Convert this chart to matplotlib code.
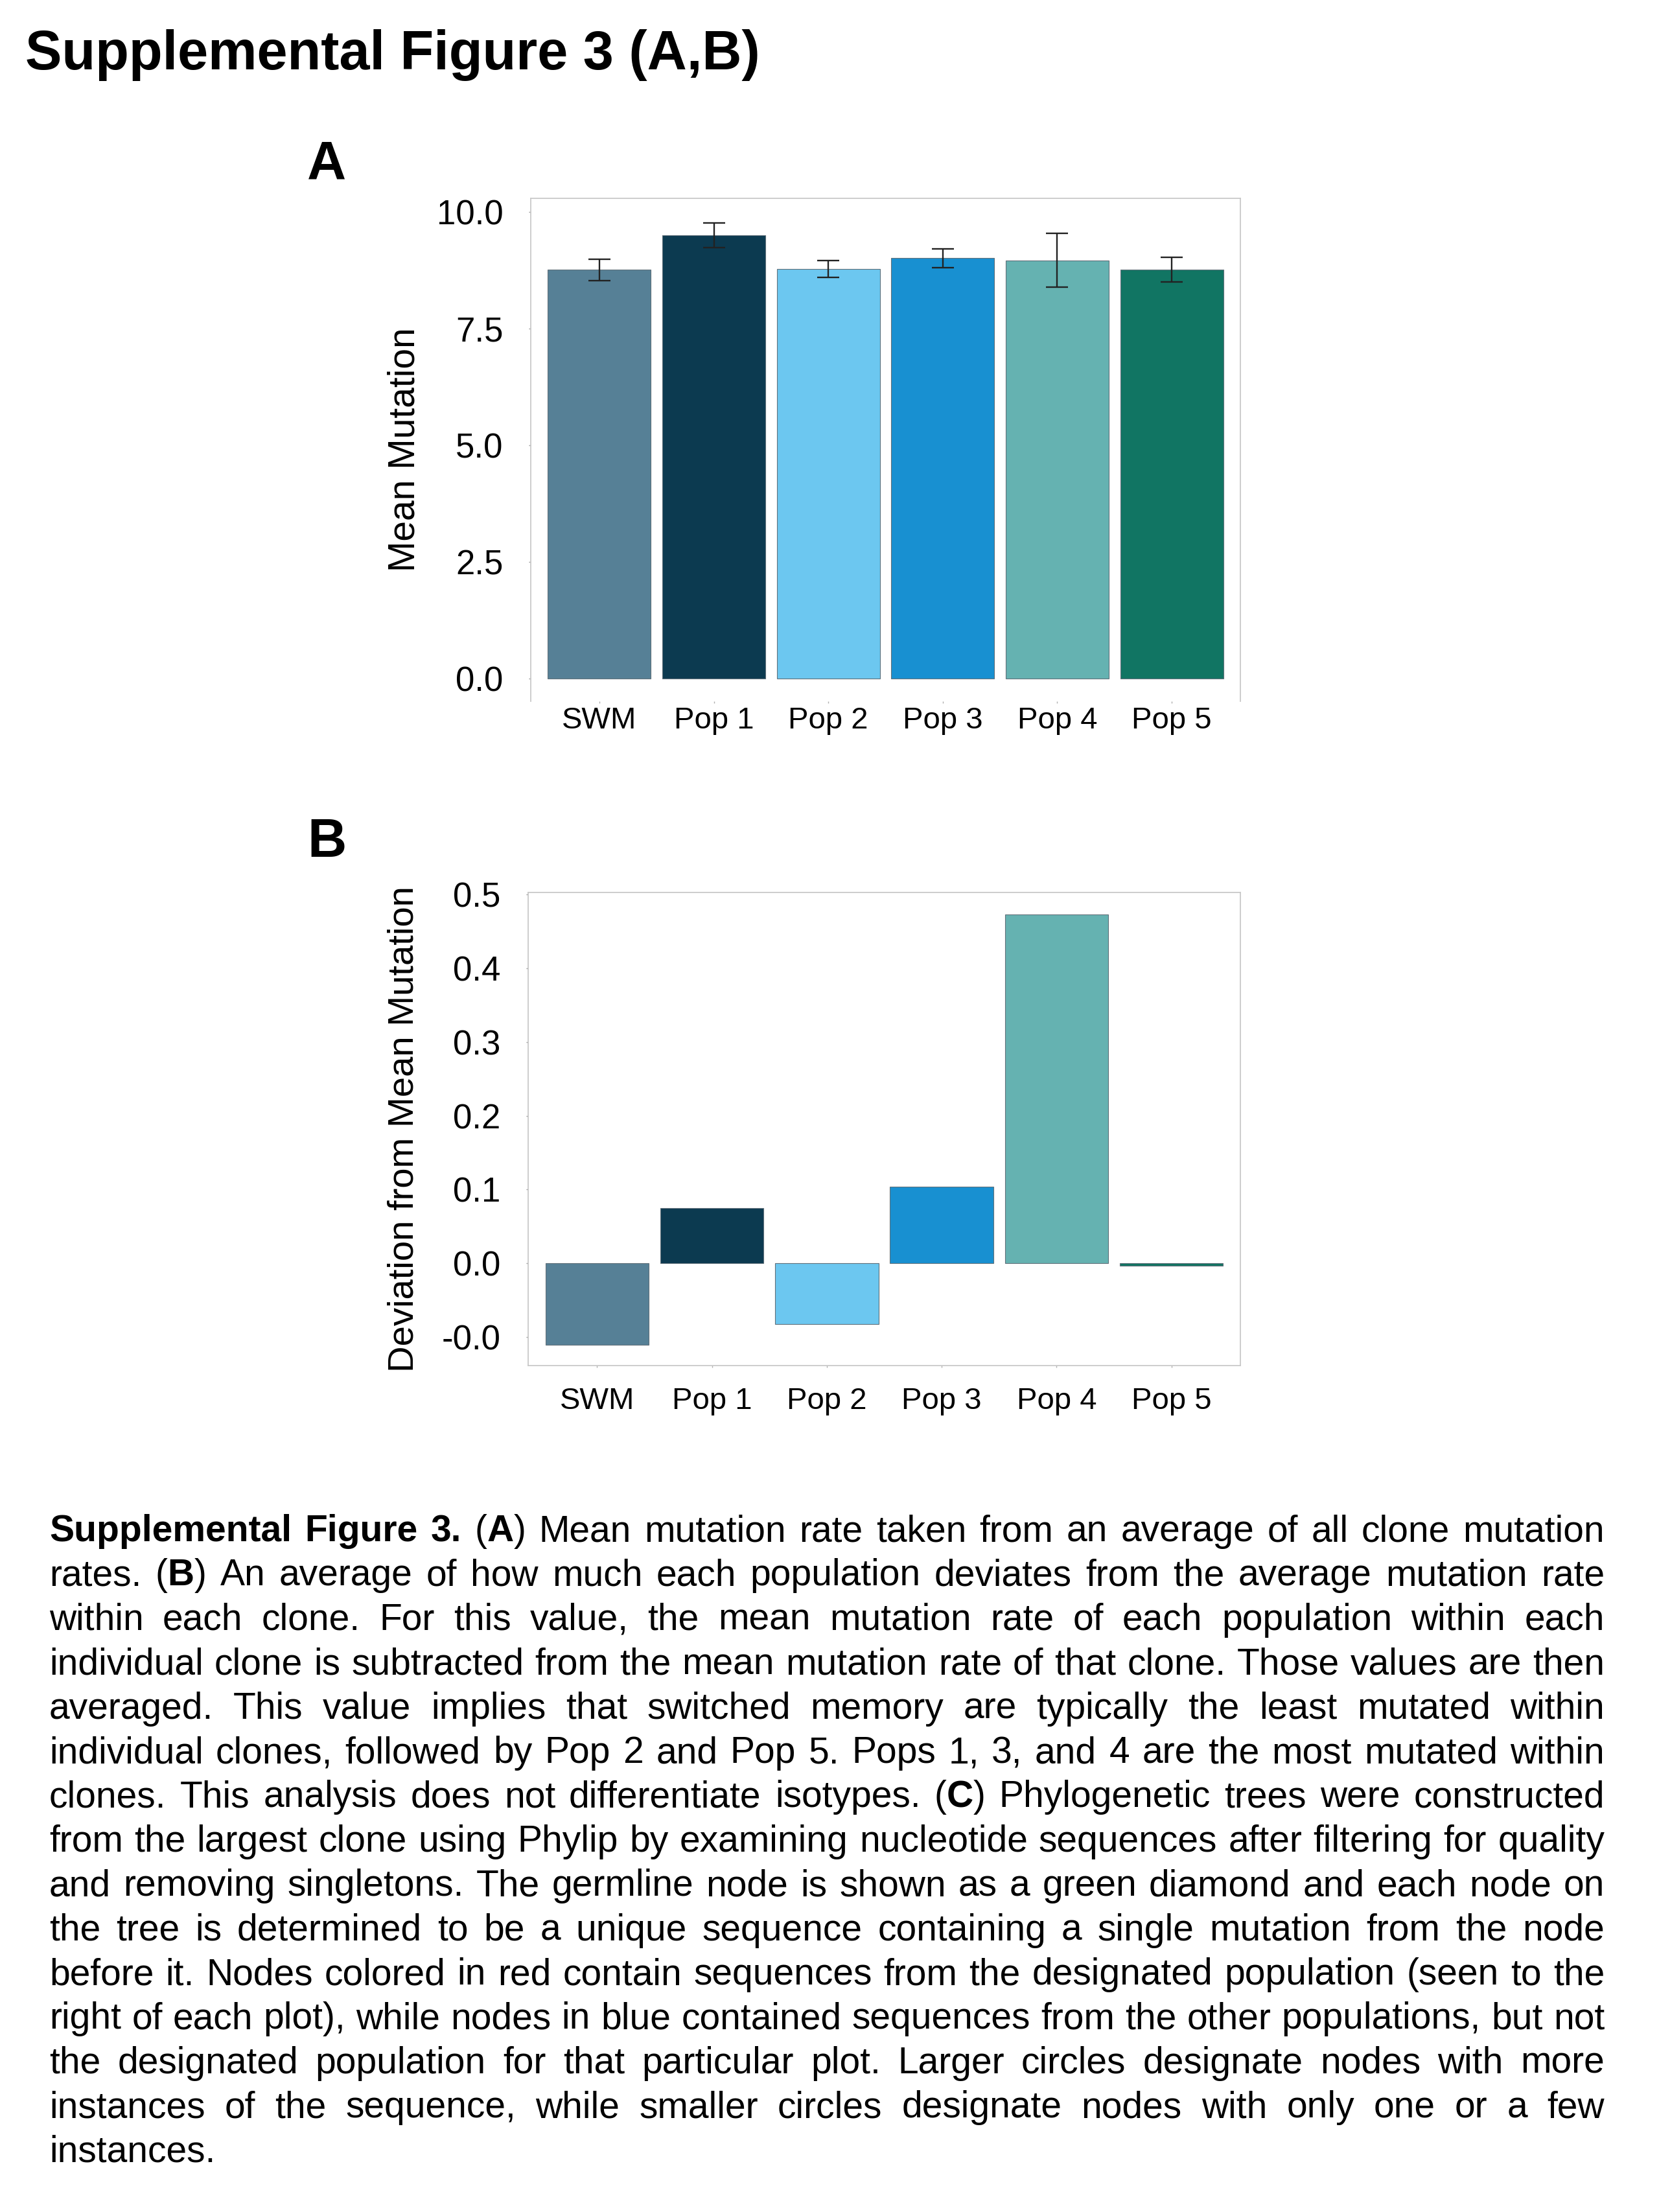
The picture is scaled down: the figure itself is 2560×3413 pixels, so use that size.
import numpy as np
import matplotlib
matplotlib.use('Agg')
import matplotlib.pyplot as plt

W, H = 2560, 3413
DPI = 100
FONT = 'Liberation Sans'
plt.rcParams['font.family'] = [FONT, 'DejaVu Sans']

# ---------------- data ----------------
categories = ['SWM', 'Pop 1', 'Pop 2', 'Pop 3', 'Pop 4', 'Pop 5']
mean_mutation = [8.76, 9.50, 8.77, 9.01, 8.96, 8.76]
mean_mutation_err = [0.23, 0.26, 0.18, 0.20, 0.58, 0.26]
deviation = [-0.111, 0.075, -0.083, 0.104, 0.473, -0.004]
bar_colors = ['#568096', '#0c3a50', '#6cc7f0', '#1890d1', '#65b2b1', '#117563']
a_yticks = [0.0, 2.5, 5.0, 7.5, 10.0]
a_yticklabels = ['0.0', '2.5', '5.0', '7.5', '10.0']
b_yticks = [-0.1, 0.0, 0.1, 0.2, 0.3, 0.4, 0.5]
b_yticklabels = ['-0.0', '0.0', '0.1', '0.2', '0.3', '0.4', '0.5']

title_text = 'Supplemental Figure 3 (A,B)'
caption_lines = [
    '**Supplemental** **Figure** **3.** (**A**) Mean mutation rate taken from an average of all clone mutation',
    'rates. (**B**) An average of how much each population deviates from the average mutation rate',
    'within each clone. For this value, the mean mutation rate of each population within each',
    'individual clone is subtracted from the mean mutation rate of that clone. Those values are then',
    'averaged. This value implies that switched memory are typically the least mutated within',
    'individual clones, followed by Pop 2 and Pop 5. Pops 1, 3, and 4 are the most mutated within',
    'clones. This analysis does not differentiate isotypes. (**C**) Phylogenetic trees were constructed',
    'from the largest clone using Phylip by examining nucleotide sequences after filtering for quality',
    'and removing singletons. The germline node is shown as a green diamond and each node on',
    'the tree is determined to be a unique sequence containing a single mutation from the node',
    'before it. Nodes colored in red contain sequences from the designated population (seen to the',
    'right of each plot), while nodes in blue contained sequences from the other populations, but not',
    'the designated population for that particular plot. Larger circles designate nodes with more',
    'instances of the sequence, while smaller circles designate nodes with only one or a few',
    'instances.',
]

# ---------------- figure ----------------
fig = plt.figure(figsize=(W / DPI, H / DPI), dpi=DPI)
fig.patch.set_facecolor('white')


def px_axes(left, top, right, bottom):
    return fig.add_axes([left / W, 1 - bottom / H, (right - left) / W, (bottom - top) / H])


FRAME = '#c9c9c9'
x = np.arange(1, len(categories) + 1)


def style(ax, xpad):
    for s in ax.spines.values():
        s.set_color(FRAME)
        s.set_linewidth(1.3)
    ax.set_xlim(0.4, 6.6)
    ax.set_xticks(x)
    ax.set_xticklabels(categories, fontsize=34)
    ax.tick_params(axis='y', length=2.5, width=1, color='#9a9a9a', pad=28, labelsize=38)
    ax.tick_params(axis='x', length=2.5, width=1, color='#b0b0b0', pad=xpad, labelsize=34)


# Panel A
axA = px_axes(819, 306, 1914, 1082)
axA.bar(x, mean_mutation, width=0.9, color=bar_colors, edgecolor='#60707a', linewidth=0.8)
axA.errorbar(x, mean_mutation, yerr=mean_mutation_err, fmt='none', ecolor='#222222',
             elinewidth=1.7, capsize=12, capthick=1.7)
axA.set_ylim(-0.49, 10.29)
axA.set_yticks(a_yticks)
axA.set_yticklabels(a_yticklabels)
style(axA, 3)
axA.spines['bottom'].set_visible(False)
axA.set_ylabel('Mean Mutation', fontsize=41)
axA.yaxis.label.set_verticalalignment('center')
axA.yaxis.set_label_coords((624 - 819) / (1914 - 819), 0.5)

# Panel B
axB = px_axes(815, 1377, 1914, 2107)
axB.bar(x, deviation, width=0.9, color=bar_colors, edgecolor='#60707a', linewidth=0.8)
axB.set_ylim(-0.139, 0.503)
axB.set_yticks(b_yticks)
axB.set_yticklabels(b_yticklabels)
style(axB, 21)
axB.set_ylabel('Deviation from Mean Mutation', fontsize=40.5)
axB.yaxis.label.set_verticalalignment('center')
axB.yaxis.set_label_coords((624 - 815) / (1914 - 815), 0.5)

# Title and panel letters
fig.text(39 / W, 1 - 107 / H, title_text, fontsize=61, fontweight='bold',
         ha='left', va='baseline')
fig.text(474 / W, 1 - 277 / H, 'A', fontsize=60, fontweight='bold', ha='left', va='baseline')
fig.text(474 / W, 1 - 1322 / H, 'B', fontsize=60, fontweight='bold', ha='left', va='baseline')

# ---------------- justified caption ----------------
renderer = fig.canvas.get_renderer()


def parse_word(word):
    parts = word.split('**')
    return [(p, i % 2 == 1) for i, p in enumerate(parts) if p]


def measure(s, bold, fs):
    t = fig.text(0, 0, s, fontsize=fs, fontweight='bold' if bold else 'normal')
    w = t.get_window_extent(renderer).width
    t.remove()
    return w


LEFT, RIGHT = 76, 2476
avail = RIGHT - LEFT
words_per_line = [[parse_word(w) for w in line.split(' ')] for line in caption_lines]


def natural_widths(fs):
    sp = measure('a a', False, fs) - measure('aa', False, fs)
    res = []
    for wl in words_per_line:
        ws = [sum(measure(s, b, fs) for s, b in w) for w in wl]
        res.append((ws, sp))
    return res


fs = 41.0
nat = natural_widths(fs)
ratio = max(sum(ws) + sp * (len(ws) - 1) for ws, sp in nat[:-1]) / avail
if ratio > 1:
    fs = fs / ratio * 0.985
    nat = natural_widths(fs)

BASE0, STEP = 2378, 68.4
for i, (wl, (ws, sp)) in enumerate(zip(words_per_line, nat)):
    base = BASE0 + STEP * i
    last = (i == len(words_per_line) - 1)
    gap = sp if last else (avail - sum(ws)) / (len(ws) - 1)
    cx = LEFT
    for w, wwidth in zip(wl, ws):
        sx = cx
        for s, b in w:
            fig.text(sx / W, 1 - base / H, s, fontsize=fs,
                     fontweight='bold' if b else 'normal', ha='left', va='baseline')
            sx += measure(s, b, fs)
        cx += wwidth + gap

fig.savefig('out.png', dpi=DPI, facecolor='white')
